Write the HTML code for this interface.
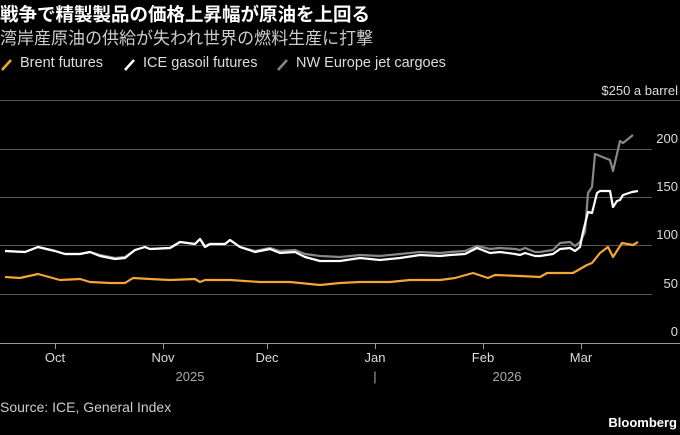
<!DOCTYPE html><html><head><meta charset="utf-8"><style>
body{margin:0;background:#000;width:680px;height:435px;overflow:hidden;font-family:"Liberation Sans","Noto Sans CJK JP",sans-serif;color:#fff}
.t{position:absolute;white-space:nowrap}
</style></head><body>
<div class="t" style="left:0;top:1px;font-size:18.5px;font-weight:bold;">戦争で精製製品の価格上昇幅が原油を上回る</div>
<div class="t" style="left:0;top:24px;font-size:17px;color:#ccc;">湾岸産原油の供給が失われ世界の燃料生産に打撃</div>
<div class="t" style="left:20px;top:55px;font-size:14.5px;color:#ddd;">Brent futures</div>
<div class="t" style="left:143px;top:55px;font-size:14.5px;color:#ddd;">ICE gasoil futures</div>
<div class="t" style="left:296px;top:55px;font-size:14.5px;color:#ddd;">NW Europe jet cargoes</div>
<svg class="t" style="left:0;top:0" width="680" height="435">
<line x1="2" y1="70" x2="11" y2="60" stroke="#f4a534" stroke-width="2.5"/>
<line x1="125" y1="70" x2="134" y2="60" stroke="#fff" stroke-width="2.5"/>
<line x1="278" y1="70" x2="287" y2="60" stroke="#888" stroke-width="2.5"/>
<g stroke="#555" stroke-width="1">
<line x1="0" y1="100.5" x2="680" y2="100.5"/>
<line x1="0" y1="149.5" x2="652" y2="149.5"/>
<line x1="0" y1="197.5" x2="652" y2="197.5"/>
<line x1="0" y1="245.5" x2="652" y2="245.5"/>
<line x1="0" y1="294.5" x2="652" y2="294.5"/>
</g>
<line x1="0" y1="343.5" x2="680" y2="343.5" stroke="#999"/>
<g stroke="#999"><line x1="55.5" y1="343" x2="55.5" y2="349"/><line x1="163.5" y1="343" x2="163.5" y2="349"/><line x1="267.5" y1="343" x2="267.5" y2="349"/><line x1="375.5" y1="343" x2="375.5" y2="349"/><line x1="483.5" y1="343" x2="483.5" y2="349"/><line x1="581.5" y1="343" x2="581.5" y2="349"/></g>
<g font-size="13" fill="#ddd" text-anchor="end" font-family="Liberation Sans,sans-serif">
<text x="678" y="95">$250 a barrel</text>
<text x="678" y="143">200</text><text x="678" y="191">150</text><text x="678" y="239">100</text><text x="678" y="288">50</text><text x="678" y="336">0</text>
</g>
<g font-size="13" fill="#ddd" text-anchor="middle" font-family="Liberation Sans,sans-serif">
<text x="55" y="362">Oct</text><text x="163" y="362">Nov</text><text x="267" y="362">Dec</text><text x="375" y="362">Jan</text><text x="483" y="362">Feb</text><text x="581" y="362">Mar</text>
<text x="190" y="381" fill="#aaa">2025</text><text x="375" y="381" fill="#aaa">|</text><text x="507" y="381" fill="#aaa">2026</text>
</g>
<polyline fill="none" stroke="#888" stroke-width="2.2" stroke-linejoin="round" points="5,251 25,252 38,247 55,251 65,254 80,254 90,252 100,255 115,258 125,257 135,250 145,247 150,249 170,248 180,242 195,244 200,239 205,246 210,244 225,244 230,240 240,247 255,251 270,248 280,251 295,250 305,254 320,256 340,257 360,255 380,256 400,254 420,252 440,253 450,252 465,251 477,246 490,249 500,248 515,249 520,250 525,248 535,252 540,252 553,250 560,243 570,242 575,246 580,242 585,232 588,193 592,187 595,154 610,160 613,171 620,141 623,143 633,135"/>
<polyline fill="none" stroke="#fff" stroke-width="2.2" stroke-linejoin="round" points="5,251 25,252 38,247 55,251 65,254 80,254 90,252 100,256 115,259 125,258 135,250 145,247 150,249 170,248 180,242 195,244 200,239 205,247 210,244 225,244 230,240 240,247 255,252 270,249 280,253 295,252 305,257 320,261 340,261 360,258 380,260 400,258 420,255 440,256 450,255 465,254 477,248 490,253 500,252 515,254 520,255 525,253 535,256 540,256 553,254 560,249 570,248 575,251 580,247 583,232 588,212 592,213 597,193 600,191 610,191 613,207 617,201 620,200 623,195 632,192 638,191"/>
<polyline fill="none" stroke="#f4a534" stroke-width="2.2" stroke-linejoin="round" points="5,277 20,278 38,274 60,280 80,279 90,282 110,283 125,283 133,278 150,279 170,280 195,279 200,282 205,280 230,280 260,282 290,282 320,285 340,283 360,282 390,282 410,280 440,280 455,278 473,273 488,278 495,275 520,276 540,277 547,273 570,273 573,273 587,265 592,263 600,253 608,247 613,257 622,243 633,245 638,242"/>
</svg>
<div class="t" style="left:0;top:399px;font-size:14px;color:#ccc;">Source: ICE, General Index</div>
<div class="t" style="right:3px;top:415px;font-size:13px;font-weight:bold;">Bloomberg</div>
</body></html>
